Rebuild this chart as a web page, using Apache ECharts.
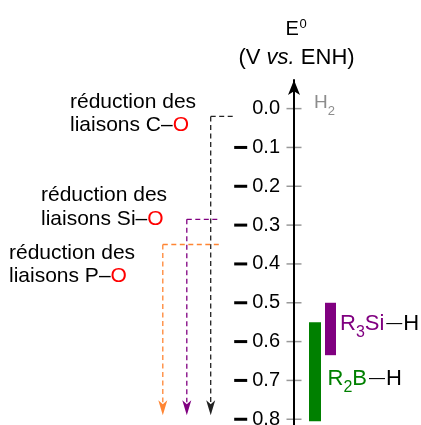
<!DOCTYPE html>
<html><head><meta charset="utf-8">
<script src="https://cdn.jsdelivr.net/npm/echarts@6/dist/echarts.min.js"></script>
<style>html,body{margin:0;padding:0;background:#fff}#c{width:421px;height:425px}</style>
</head><body><div id="c"></div>
<script>
// ---- data ----
const tickValues = [0, -0.1, -0.2, -0.3, -0.4, -0.5, -0.6, -0.7, -0.8];
const h2Level = 0.0;
const bandNames = ['R3Si–H', 'R2B–H'];
const bandTop = [-0.5, -0.55];
const bandBottom = [-0.635, -0.805];
const reductionBonds = ['C–O', 'Si–O', 'P–O'];
const reductionLevels = [-0.02, -0.285, -0.35];
const arrowEndLevel = -0.79;

// ---- layout / style ----
const FONT = "'Liberation Sans', Arial, sans-serif";
const bandX = [36.5, 21], bandW = [11, 12], bandColors = ['#800080', '#008000'];
const laneX = [-83.3, -107.2, -131.2], laneEnd = [-58, -73.5, -73];
const laneColors = ['#222222', '#800080', '#ff8533'];

const chart = echarts.init(document.getElementById('c'), null, {renderer: 'canvas'});

const subTok = (c) => ({fontSize: 16, lineHeight: 16, verticalAlign: 'bottom', fill: c, fontFamily: FONT});
const mainTok = (c) => ({fontSize: 22, lineHeight: 34, fill: c, fontFamily: FONT});
const dashTok = {fontSize: 16, lineHeight: 34, fill: '#000', fontFamily: FONT, padding: [0, 1, 0, 2]};

function redLabel(bond, x, yc) {
  return {
    type: 'text', left: x, top: yc - 23.5, silent: true,
    style: {
      text: 'réduction des\nliaisons ' + bond.replace('O', '{r|O}'),
      font: '21px ' + FONT, fill: '#000', lineHeight: 23.5,
      rich: {r: {fill: '#ff0000', fontSize: 21, fontFamily: FONT, lineHeight: 23.5}}
    }
  };
}

const option = {
  animation: false,
  backgroundColor: '#fff',
  grid: {left: 0, right: 0, top: 80, bottom: 0, containLabel: false, outerBoundsMode: 'none'},
  xAxis: {type: 'value', min: -294, max: 127, show: false},
  yAxis: {
    type: 'value', min: -0.8148, max: 0.0737, position: 'left', offset: -294,
    axisLine: {show: true, onZero: false, symbol: ['none', 'arrow'], symbolSize: [9, 15],
      lineStyle: {color: '#000', width: 2}},
    axisTick: {show: false},
    splitLine: {show: false},
    axisLabel: {
      customValues: tickValues, margin: 14,
      formatter: function (v) {
        const s = Math.abs(v).toFixed(1);
        return v < -1e-9 ? '{m| }{g| }{n|' + s + '}' : '{n|' + s + '}';
      },
      rich: {
        m: {width: 13, height: 3, backgroundColor: '#000', verticalAlign: 'middle', fontSize: 3, lineHeight: 3},
        g: {width: 5, fontSize: 3, lineHeight: 3},
        n: {fontSize: 20, fontFamily: FONT, color: '#000'}
      }
    }
  },
  series: [
    {
      type: 'scatter', z: -1, silent: true, symbol: 'rect', symbolSize: [15, 1.5],
      itemStyle: {color: '#808080'},
      data: tickValues.map(v => [0, v])
    },
    {
      type: 'custom', silent: true,
      data: bandTop.map((t, i) => [bandX[i], t, bandBottom[i]]),
      encode: {x: 0, y: [1, 2]},
      renderItem: function (params, api) {
        const i = params.dataIndex;
        const p1 = api.coord([api.value(0), api.value(1)]);
        const p2 = api.coord([api.value(0), api.value(2)]);
        return {type: 'rect', shape: {x: p1[0] - bandW[i] / 2, y: p1[1], width: bandW[i], height: p2[1] - p1[1]},
          style: {fill: bandColors[i]}};
      }
    },
    {
      type: 'custom', silent: true,
      data: reductionLevels.map((l, i) => [laneX[i], l, laneEnd[i], arrowEndLevel]),
      encode: {x: 0, y: 1},
      renderItem: function (params, api) {
        const i = params.dataIndex;
        const a = api.coord([api.value(0), api.value(1)]);
        const b = api.coord([api.value(2), api.value(1)]);
        const t = api.coord([api.value(0), api.value(3)]);
        const c = laneColors[i];
        const ls = {stroke: c, lineWidth: 1.3, lineDash: [5, 3.5], fill: null};
        return {type: 'group', children: [
          {type: 'line', shape: {x1: a[0], y1: a[1], x2: b[0], y2: b[1]}, style: ls},
          {type: 'line', shape: {x1: a[0], y1: a[1], x2: t[0], y2: t[1] - 13}, style: ls},
          {type: 'polygon', shape: {points: [[t[0], t[1]], [t[0] - 4.5, t[1] - 15], [t[0], t[1] - 11], [t[0] + 4.5, t[1] - 15]]},
            style: {fill: c}}
        ]};
      }
    }
  ],
  graphic: [
    {type: 'text', left: 285.5, top: 19, silent: true, style: {text: 'E', font: '20px ' + FONT, fill: '#000'}},
    {type: 'text', left: 299.5, top: 18, silent: true, style: {text: '0', font: '13px ' + FONT, fill: '#000'}},
    {type: 'text', left: 238.5, top: 47, silent: true,
      style: {text: '(V {i|vs.} ENH)', font: '22px ' + FONT, fill: '#000',
        rich: {i: {fontStyle: 'italic', fontSize: 22, fontFamily: FONT, fill: '#000'}}}},
    {type: 'text', left: 314, top: 93.5, silent: true,
      style: {text: '{h|H}{s|2}', rich: {h: {fontSize: 19, lineHeight: 30, fill: '#8c8c8c', fontFamily: FONT},
        s: {fontSize: 13, lineHeight: 13, verticalAlign: 'bottom', fill: '#8c8c8c', fontFamily: FONT}}}},
    {type: 'text', left: 340, top: 312.5, silent: true,
      style: {text: '{p|R}{ps|3}{p|Si}{d|—}{k|H}', rich: {p: mainTok('#800080'), ps: subTok('#800080'), d: dashTok, k: mainTok('#000')}}},
    {type: 'text', left: 327.5, top: 367.5, silent: true,
      style: {text: '{p|R}{ps|2}{p|B}{d|—}{k|H}', rich: {p: mainTok('#008000'), ps: subTok('#008000'), d: dashTok, k: mainTok('#000')}}},
    redLabel(reductionBonds[0], 70, 113.7),
    redLabel(reductionBonds[1], 41, 207.4),
    redLabel(reductionBonds[2], 9, 264.9)
  ]
};
chart.setOption(option);
</script>
</body></html>
